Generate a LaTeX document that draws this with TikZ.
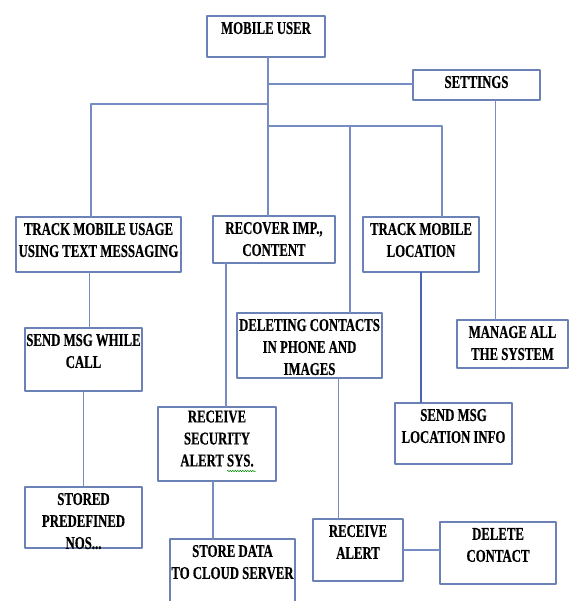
\documentclass[tikz,border=0pt]{standalone}
\usepackage{fontspec}
\newfontfamily\boxfont{Liberation Serif}[FakeStretch=0.71, FakeBold=0.5]
\usetikzlibrary{decorations.pathmorphing}
\definecolor{boxline}{RGB}{108,130,182}
\definecolor{conline}{RGB}{118,140,194}
\definecolor{darkline}{RGB}{72,102,180}
\newcommand{\boxtxt}[3]{\parbox[c][#2][t]{#1}{\centering #3}}

\begin{document}
\begin{tikzpicture}[x=1pt, y=-1pt, line join=round,
		box/.style={draw=boxline, line width=1.2pt, anchor=north west, inner xsep=0pt, inner ysep=6pt, outer sep=0pt,
			font={\boxfont\bfseries\fontsize{18pt}{22pt}\selectfont}},
		con/.style={draw=conline, line width=1.3pt}]
	\useasboundingbox (0,0) rectangle (570,601);
	\clip (0,0) rectangle (570,601);
	\fill[white] (0,0) rectangle (570,601);
	\node[box] (mu) at (207,16) {\boxtxt{118pt}{29pt}{MOBILE USER}};
	\node[box] (set) at (413,70) {\boxtxt{127pt}{18pt}{SETTINGS}};
	\node[box] (tmu) at (16,217) {\boxtxt{165pt}{43pt}{TRACK MOBILE USAGE\\USING TEXT MESSAGING}};
	\node[box] (rec) at (213,216) {\boxtxt{122pt}{35pt}{RECOVER IMP.,\\CONTENT}};
	\node[box] (tml) at (363,217) {\boxtxt{116pt}{43pt}{TRACK MOBILE\\LOCATION}};
	\node[box] (smc) at (25,328) {\boxtxt{117pt}{51pt}{SEND MSG WHILE\\CALL}};
	\node[box] (del) at (237,313) {\boxtxt{145pt}{53pt}{DELETING CONTACTS\\IN PHONE AND\\IMAGES}};
	\node[box] (man) at (457,320) {\boxtxt{111pt}{36pt}{MANAGE ALL\\THE SYSTEM}};
	\node[box, inner ysep=3.5pt] (rsa) at (158,407) {\boxtxt{118pt}{67pt}{RECEIVE\\SECURITY\\ALERT SYS.}};
	\node[box] (sml) at (395,403) {\boxtxt{117pt}{49pt}{SEND MSG\\LOCATION INFO}};
	\node[box] (spn) at (25,487) {\boxtxt{117pt}{49pt}{STORED\\PREDEFINED\\NOS...}};
	\node[box] (sdc) at (170,539) {\boxtxt{125pt}{59pt}{STORE DATA\\TO CLOUD SERVER}};
	\node[box] (ral) at (313,519) {\boxtxt{90pt}{50pt}{RECEIVE\\ALERT}};
	\node[box] (dco) at (440,522) {\boxtxt{116pt}{50pt}{DELETE\\CONTACT}};
	\coordinate (j1) at (268,84);
	\coordinate (j2) at (268,104);
	\coordinate (j3) at (268,126);
	\coordinate (j4) at (350,126);
	\draw[con] ([xshift=2pt]mu.south) -- ([xshift=2pt]mu.south |- rec.north);
	\draw[con] (j1) -- (j1 -| set.west);
	\draw[con] (j2) -| ([xshift=-7.5pt]tmu.north);
	\draw[con] (j3) -| ([xshift=21pt]tml.north);
	\draw[con] (j4) -- (j4 |- del.north);
	\draw[con] ([xshift=19pt]set.south) -- ([xshift=19pt]set.south |- man.north);
	\draw[con] ([xshift=-9pt]tmu.south) -- ([xshift=-9pt]tmu.south |- smc.north);
	\draw[con] (smc.south) -- (spn.north);
	\draw[con] ([xshift=-48pt]rec.south) -- ([xshift=-48pt]rec.south |- rsa.north);
	\draw[con] ([xshift=-4pt]rsa.south) -- ([xshift=-4pt]rsa.south |- sdc.north);
	\draw[con, draw=darkline, line width=2.2pt] (tml.south) -- (tml.south |- sml.north);
	\draw[con] ([xshift=29pt]del.south) -- ([xshift=29pt]del.south |- ral.north);
	\draw[con] (ral.east) -- (ral.east -| dco.west);
	\draw[green!55!black, line width=0.5pt, decorate, decoration={snake, amplitude=0.7pt, segment length=2.5pt}] (227,471) -- (256,471);
\end{tikzpicture}
\end{document}
